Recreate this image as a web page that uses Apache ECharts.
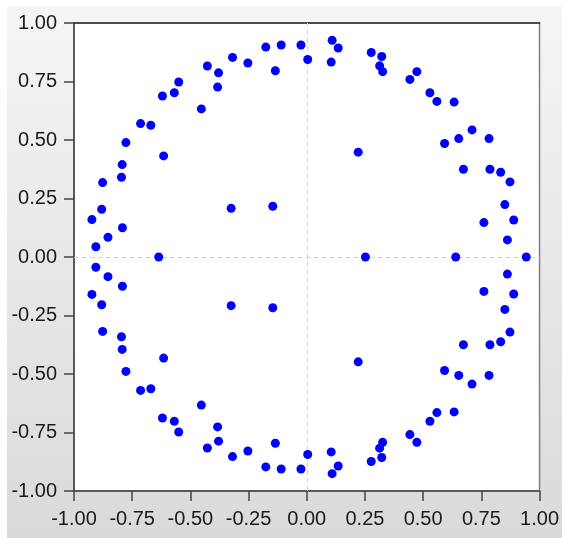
<!DOCTYPE html>
<html>
<head>
<meta charset="utf-8">
<script src="https://cdn.jsdelivr.net/npm/echarts@6/dist/echarts.min.js"></script>
<style>
html,body{margin:0;padding:0;background:#fff;}
#c{width:562px;height:538px;}
</style>
</head>
<body>
<div id="c"></div>
<script>
var rootRe = [
  -0.906,-0.854,-0.792,-0.923,-0.881,-0.877,-0.796,-0.793,-0.615,-0.777,
  -0.670,-0.714,-0.453,-0.620,-0.569,-0.383,-0.550,-0.379,-0.427,-0.253,
  -0.319,-0.135,-0.176,-0.110,-0.025,0.004,0.105,0.109,0.135,0.277,
  0.322,0.313,0.326,0.443,0.473,0.529,0.559,0.633,0.592,0.653,
  0.710,0.783,0.673,0.787,0.833,0.873,0.851,0.889,0.761,0.862,
  0.221,-0.325,-0.146,
  -0.906,-0.854,-0.792,-0.923,-0.881,-0.877,-0.796,-0.793,-0.615,-0.777,
  -0.670,-0.714,-0.453,-0.620,-0.569,-0.383,-0.550,-0.379,-0.427,-0.253,
  -0.319,-0.135,-0.176,-0.110,-0.025,0.004,0.105,0.109,0.135,0.277,
  0.322,0.313,0.326,0.443,0.473,0.529,0.559,0.633,0.592,0.653,
  0.710,0.783,0.673,0.787,0.833,0.873,0.851,0.889,0.761,0.862,
  0.221,-0.325,-0.146,
  -0.636,0.252,0.640,0.943
];
var rootIm = [
  0.044,0.084,0.125,0.160,0.204,0.318,0.341,0.395,0.432,0.489,
  0.563,0.570,0.633,0.688,0.702,0.726,0.748,0.787,0.816,0.829,
  0.853,0.796,0.897,0.906,0.906,0.844,0.833,0.926,0.893,0.874,
  0.857,0.817,0.792,0.759,0.792,0.702,0.665,0.662,0.485,0.506,
  0.543,0.506,0.375,0.375,0.362,0.321,0.224,0.158,0.147,0.073,
  0.448,0.208,0.217,
  -0.044,-0.084,-0.125,-0.160,-0.204,-0.318,-0.341,-0.395,-0.432,-0.489,
  -0.563,-0.570,-0.633,-0.688,-0.702,-0.726,-0.748,-0.787,-0.816,-0.829,
  -0.853,-0.796,-0.897,-0.906,-0.906,-0.844,-0.833,-0.926,-0.893,-0.874,
  -0.857,-0.817,-0.792,-0.759,-0.792,-0.702,-0.665,-0.662,-0.485,-0.506,
  -0.543,-0.506,-0.375,-0.375,-0.362,-0.321,-0.224,-0.158,-0.147,-0.073,
  -0.448,-0.208,-0.217,
  0,0,0,0
];
var axisMin = -1, axisMax = 1, axisStep = 0.25;

var pts = rootRe.map(function(v, i){ return [v, rootIm[i]]; });
var chart = echarts.init(document.getElementById('c'), null, {renderer:'canvas'});
var labelStyle = {color:'#1a1a1a', fontFamily:'Liberation Sans, Arial, sans-serif', fontSize:20,
  formatter:function(v){ return v.toFixed(2); }};
chart.setOption({
  animation:false,
  backgroundColor:'#ffffff',
  graphic:[{
    type:'rect', z:-10, silent:true,
    shape:{x:7, y:6, width:555, height:532},
    style:{fill:new echarts.graphic.LinearGradient(0,0,0,1,[{offset:0,color:'#f5f5f5'},{offset:1,color:'#dadada'}])}
  }],
  grid:{left:74, top:23, right:21, bottom:47, show:true, backgroundColor:'#ffffff', borderColor:'#808080', borderWidth:1.5},
  xAxis:[{
    type:'value', min:axisMin, max:axisMax, interval:axisStep, position:'bottom',
    axisLine:{show:true, onZero:false, lineStyle:{color:'#444', width:1.5}},
    axisTick:{show:true, length:10, lineStyle:{color:'#444', width:1.5}},
    axisLabel:Object.assign({margin:18}, labelStyle),
    splitLine:{show:false}
  },{
    type:'value', min:axisMin, max:axisMax, position:'top',
    axisLine:{show:true, onZero:false, lineStyle:{color:'#333', width:1.5}},
    axisTick:{show:false}, axisLabel:{show:false}, splitLine:{show:false}
  }],
  yAxis:{
    type:'value', min:axisMin, max:axisMax, interval:axisStep,
    axisLine:{show:true, onZero:false, lineStyle:{color:'#444', width:1.5}},
    axisTick:{show:true, length:10, lineStyle:{color:'#444', width:1.5}},
    axisLabel:Object.assign({margin:17}, labelStyle),
    splitLine:{show:false}
  },
  series:[{
    type:'scatter', xAxisIndex:0, data:pts, symbol:'circle', symbolSize:9,
    itemStyle:{color:'#0000ff', opacity:1},
    markLine:{
      silent:true, symbol:['none','none'], animation:false,
      label:{show:false},
      lineStyle:{color:'#d4d4d4', type:[5,3], width:1},
      data:[{xAxis:0},{yAxis:0}],
      z:1
    },
    z:3
  }]
});
</script>
</body>
</html>
